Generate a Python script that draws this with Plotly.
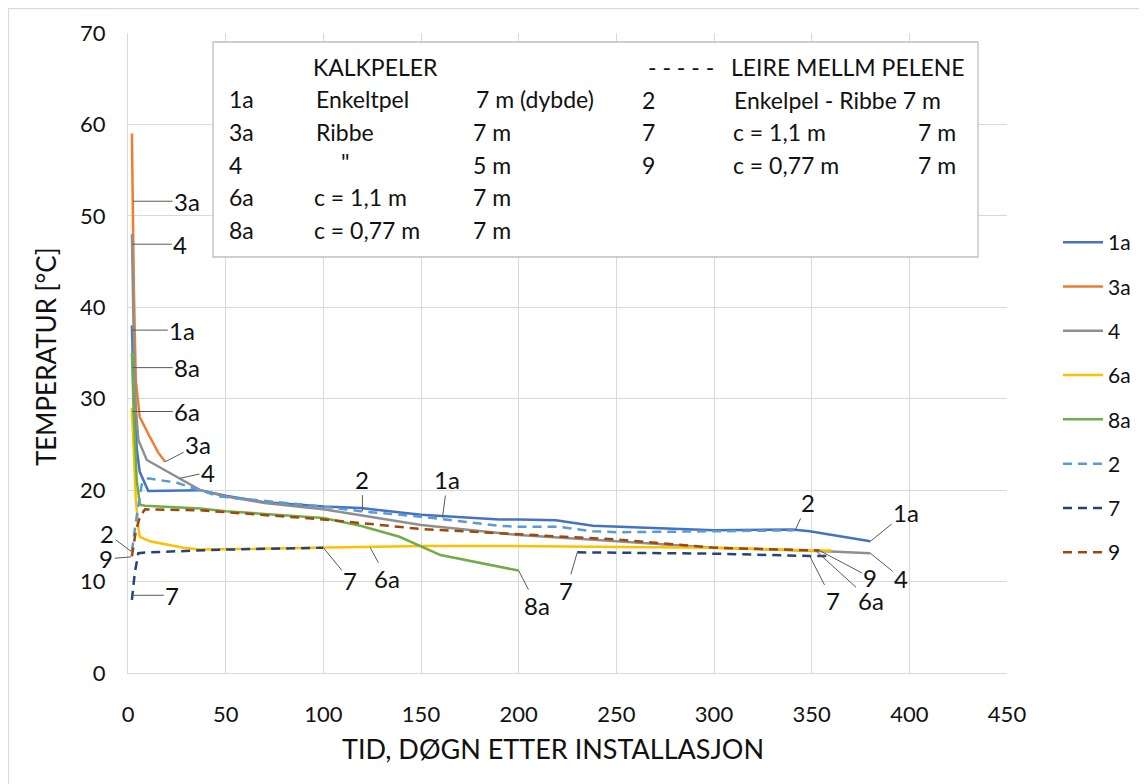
import plotly.graph_objects as go

# ---------------- data ----------------
days_1a = [2, 3, 4.5, 6, 10.4, 37, 50, 69, 100, 119, 150, 190, 200, 219, 238, 250, 300, 340, 349, 380]
temp_1a = [38, 30, 24.5, 22, 19.9, 20.0, 19.4, 18.7, 18.2, 18.05, 17.3, 16.8, 16.8, 16.7, 16.1, 16.0, 15.6, 15.7, 15.5, 14.4]

days_3a = [2, 3, 4, 6, 11, 15.5, 19]
temp_3a = [59, 42, 32, 28, 25.9, 24.1, 23.1]

days_4 = [2, 3, 4, 5.3, 9.6, 26.6, 37, 50, 70, 100, 150, 190, 200, 250, 300, 360, 380]
temp_4 = [48, 36, 29, 25.5, 23.3, 21.3, 20.0, 19.3, 18.6, 17.9, 16.2, 15.3, 15.1, 14.4, 13.7, 13.3, 13.1]

days_6a = [2, 3, 4, 5.5, 6.1, 11.3, 28.3, 37, 100, 150, 190, 250, 300, 349, 360]
temp_6a = [29, 23, 19, 15.5, 14.9, 14.4, 13.7, 13.5, 13.7, 13.9, 13.9, 13.8, 13.7, 13.4, 13.4]

days_8a = [2, 3, 4.5, 6.1, 8.7, 37, 50, 88, 100, 119, 139, 160, 200]
temp_8a = [35, 28, 21, 18.4, 18.3, 18.0, 17.7, 17.1, 16.95, 16.1, 14.9, 12.9, 11.2]

days_2 = [2, 4, 7, 10.4, 25, 47, 100, 119, 150, 190, 200, 220, 238, 250, 300, 341]
temp_2 = [13.3, 16.5, 20.6, 21.3, 20.8, 19.3, 18.2, 17.7, 17.1, 16.1, 16.0, 16.0, 15.5, 15.4, 15.5, 15.6]

days_7 = [2, 3.5, 5.3, 10.4, 50, 100, None, 230, 300, 349, 360]
temp_7 = [8, 11, 13.1, 13.2, 13.5, 13.7, None, 13.2, 13.05, 12.8, 12.8]

days_9 = [2, 4, 6.1, 8.7, 37, 50, 100, 150, 190, 250, 300, 349, 354]
temp_9 = [12.75, 15.5, 17.1, 17.9, 17.8, 17.6, 16.8, 15.75, 15.3, 14.6, 13.7, 13.5, 13.4]

series_names = ["1a", "3a", "4", "6a", "8a", "2", "7", "9"]

x_title = "TID, DØGN ETTER INSTALLASJON"
y_title = "TEMPERATUR [°C]"

# ---------------- styling ----------------
FONT = "Lato"
TXT = "#111111"
GRID = "#d9d9d9"

OFF = 8  # page body offset of the figure
W, H = 1147, 784
ML, MR, MT, MB = 120, 148, 25, 119
PW = W - ML - MR
PH = H - MT - MB


def px(xs, ys):
    """screen pixel -> paper coords"""
    xp, yp = xs - OFF, ys - OFF
    return (xp - ML) / PW, (H - MB - yp) / PH


styles = {
    "1a": dict(color="#4472C4", dash="solid"),
    "3a": dict(color="#ED7D31", dash="solid"),
    "4": dict(color="#8f8f8f", dash="solid"),
    "6a": dict(color="#FFC000", dash="solid"),
    "8a": dict(color="#70AD47", dash="solid"),
    "2": dict(color="#5B9BD5", dash="9px,6px"),
    "7": dict(color="#264478", dash="9px,6px"),
    "9": dict(color="#9E480E", dash="9px,6px"),
}
data = {
    "1a": (days_1a, temp_1a), "3a": (days_3a, temp_3a), "4": (days_4, temp_4),
    "6a": (days_6a, temp_6a), "8a": (days_8a, temp_8a), "2": (days_2, temp_2),
    "7": (days_7, temp_7), "9": (days_9, temp_9),
}

fig = go.Figure()
for name in series_names:
    xs, ys = data[name]
    st = styles[name]
    fig.add_trace(go.Scatter(
        x=xs, y=ys, mode="lines", name=name, legendgroup=name,
        connectgaps=False,
        line=dict(color=st["color"], width=2.5, dash=st["dash"]),
    ))

# data labels with leader lines: (text, x, y, ax, ay)
labels = [
    ("3a", 2.6, 51.6, 54, 0),
    ("4", 2.2, 46.9, 48, 0),
    ("1a", 2.2, 37.5, 50, 0),
    ("8a", 2.2, 33.4, 55, 0),
    ("6a", 2.2, 28.6, 55, 0),
    ("3a", 19, 23.1, 33, -17),
    ("4", 26.6, 21.3, 28, -6),
    ("2", 1.6, 13.3, -24, -18),
    ("9", 1.6, 12.7, -25, 2),
    ("7", 2.2, 8.5, 40, 0),
    ("2", 120, 17.7, 0, -32),
    ("1a", 161, 17.0, 5, -38),
    ("7", 100, 13.7, 27, 33),
    ("6a", 124, 13.7, 17, 31),
    ("8a", 200, 11.2, 18, 35),
    ("7", 230, 13.2, -11, 38),
    ("2", 341.5, 15.6, 13, -28),
    ("1a", 380, 14.4, 36, -29),
    ("9", 354, 13.4, 51, 27),
    ("4", 380, 13.1, 31, 25),
    ("7", 349, 12.8, 23, 45),
    ("6a", 352, 13.4, 55, 50),
]
for t, x, y, ax, ay in labels:
    fig.add_annotation(x=x, y=y, xref="x", yref="y", text=t, showarrow=True,
                       arrowhead=0, arrowwidth=1, arrowcolor="#595959",
                       ax=ax, ay=ay, axref="pixel", ayref="pixel",
                       font=dict(family=FONT, size=24, color=TXT))

# info box
bx0, by0 = px(213, 42)
bx1, by1 = px(978, 257)
fig.add_shape(type="rect", xref="paper", yref="paper", x0=bx0, y0=by1, x1=bx1, y1=by0,
              fillcolor="white", line=dict(color="#bfbfbf", width=1.3), layer="above")

box_text = [
    ("KALKPELER", 311, 67),
    ("1a", 227, 99), ("Enkeltpel", 314, 99), ("7 m (dybde)", 474, 99),
    ("3a", 227, 132), ("Ribbe", 314, 132), ("7 m", 471, 132),
    ("4", 227, 165), ('"', 339, 162), ("5 m", 471, 165),
    ("6a", 227, 197), ("c = 1,1 m", 312, 197), ("7 m", 471, 197),
    ("8a", 227, 230), ("c = 0,77 m", 312, 230), ("7 m", 471, 230),
    ("- - - - -", 646, 67), ("LEIRE MELLM PELENE", 729, 67),
    ("2", 640, 100), ("Enkelpel - Ribbe 7 m", 732, 100),
    ("7", 640, 132), ("c = 1,1 m", 731, 132), ("7 m", 916, 132),
    ("9", 640, 165), ("c = 0,77 m", 731, 165), ("7 m", 916, 165),
]
for t, xs_, ys_ in box_text:
    x, y = px(xs_, ys_)
    fig.add_annotation(x=x, y=y, xref="paper", yref="paper", text=t, showarrow=False,
                       xanchor="left", yanchor="middle",
                       font=dict(family=FONT, size=23, color=TXT))

# axis titles
x, y = px(553, 748)
fig.add_annotation(x=x, y=y, xref="paper", yref="paper", text=x_title, showarrow=False,
                   xanchor="center", yanchor="middle", font=dict(family=FONT, size=27, color=TXT))
x, y = px(46, 357)
fig.add_annotation(x=x, y=y, xref="paper", yref="paper", text=y_title, showarrow=False,
                   textangle=-90, xanchor="center", yanchor="middle",
                   font=dict(family=FONT, size=26, color=TXT))

# outer chart border
x0, y0 = px(8.5, 8.5)
x1, y1 = px(1250, 900)
fig.add_shape(type="rect", xref="paper", yref="paper", x0=x0, y0=y1, x1=x1, y1=y0,
              line=dict(color="#d9d9d9", width=1.3), fillcolor="rgba(0,0,0,0)", layer="below")

lx, ly = px(1058, 222)
fig.update_layout(
    width=W, height=H,
    margin=dict(l=ML, r=MR, t=MT, b=MB),
    paper_bgcolor="white", plot_bgcolor="white",
    font=dict(family=FONT, color=TXT),
    showlegend=True,
    legend=dict(x=lx, y=ly, xanchor="left", yanchor="top", bgcolor="rgba(0,0,0,0)",
                font=dict(family=FONT, size=21, color=TXT), tracegroupgap=14,
                itemwidth=40),
    xaxis=dict(range=[0, 450], tick0=0, dtick=50, showgrid=True, gridcolor=GRID, gridwidth=1.3,
               zeroline=False, showline=True, linecolor=GRID, linewidth=1.3, ticks="",
               tickfont=dict(family=FONT, size=22, color=TXT), ticklabelstandoff=21),
    yaxis=dict(range=[0, 70], tick0=0, dtick=10, showgrid=True, gridcolor=GRID, gridwidth=1.3,
               zeroline=False, showline=True, linecolor=GRID, linewidth=1.3, ticks="",
               tickfont=dict(family=FONT, size=22, color=TXT), ticklabelstandoff=17),
)

fig.write_html("out.html")
